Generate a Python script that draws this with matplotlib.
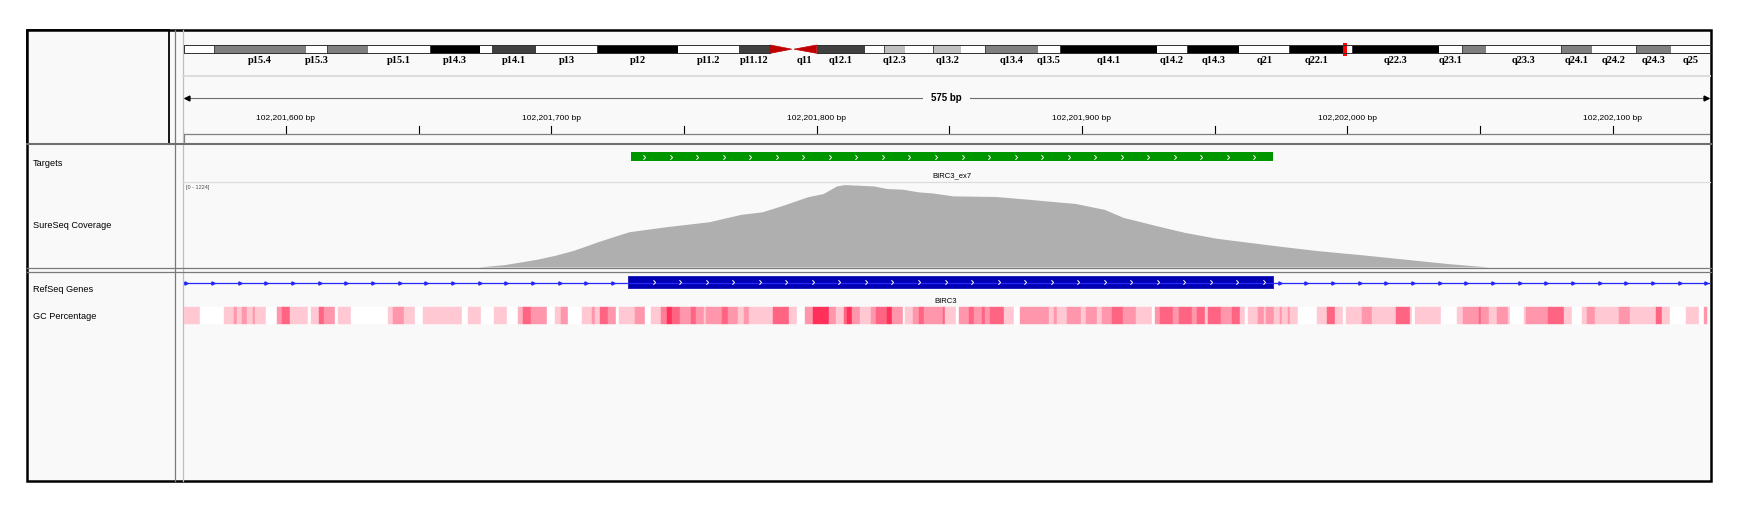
import numpy as np
import matplotlib.pyplot as plt
from matplotlib.patches import Rectangle, Polygon
from matplotlib.path import Path
from matplotlib.colors import LinearSegmentedColormap, Normalize

# view: chr11, BIRC3 exon 7
view_start = 102201561.5
view_end = 102202136.5
ruler_step = 50

target_start, target_end = 102201730, 102201972
target_name = 'BIRC3_ex7'
exon_start, exon_end = 102201729, 102201972
gene_name = 'BIRC3'

track_names = ['Targets', 'SureSeq Coverage', 'RefSeq Genes', 'GC Percentage']

# coverage (offset from view start, depth)
cov_max = 1224
cov_offset = [111, 121, 133, 140, 147, 157, 164, 168, 182, 198, 210, 218, 226, 235, 241, 246, 249, 260,
              265, 271, 277, 282, 290, 306, 318, 325, 336, 347, 354, 367, 377, 389, 402, 414, 427, 444,
              465, 477, 492]
cov_depth = [0, 35, 111, 169, 241, 376, 462, 509, 581, 652, 758, 795, 891, 1010, 1058, 1167, 1187, 1167,
             1130, 1120, 1081, 1067, 1024, 1015, 977, 952, 915, 829, 715, 591, 500, 415, 352, 295, 237, 176,
             94, 47, 0]

# GC percentage segments (start offset from view start, GC %)
gc_start = [0, 6, 15, 19, 20, 22, 24, 26, 27, 31, 35, 37, 40, 47, 48, 51, 53, 57, 58, 63, 77, 79, 83, 87, 90,
            105, 107, 112, 117, 122, 126, 128, 131, 137, 140, 142, 145, 150, 154, 155, 157, 160, 163, 164,
            170, 174, 176, 180, 182, 184, 187, 191, 193, 196, 197, 203, 205, 209, 211, 213, 222, 228, 231,
            234, 237, 243, 246, 249, 250, 252, 255, 259, 261, 265, 267, 271, 272, 275, 277, 279, 286, 287,
            291, 292, 296, 298, 301, 302, 304, 309, 313, 315, 326, 328, 329, 333, 338, 340, 344, 346, 350,
            354, 359, 365, 366, 368, 373, 375, 380, 382, 385, 386, 391, 395, 398, 400, 401, 405, 407, 408,
            411, 413, 414, 416, 417, 420, 427, 431, 434, 437, 438, 444, 448, 457, 462, 463, 464, 474, 480,
            482, 488, 489, 492, 495, 499, 500, 505, 506, 514, 520, 523, 527, 529, 532, 541, 545, 555, 557,
            560, 566, 571, 573]
gc_pct = [45, 30, 45, 55, 45, 55, 45, 55, 45, 30, 55, 65, 45, 30, 45, 65, 55, 30, 45, 30, 45, 55, 45, 30, 45,
          30, 45, 30, 45, 30, 50, 65, 55, 30, 45, 55, 30, 45, 55, 45, 65, 55, 30, 45,
          55, 30, 45, 60, 75, 65, 55, 65, 55, 45, 55, 65, 55, 45, 55, 45, 65, 45, 30,
          55, 75, 55, 45, 65, 75, 55, 45, 55, 65, 75, 55, 30, 45, 55, 65, 55, 65, 45,
          30, 55, 65, 55, 65, 55, 65, 45, 30, 55, 45, 55, 45, 55, 45, 55, 45, 55, 65,
          55, 45, 30, 55, 65, 55, 65, 55, 65, 45, 65, 55, 65, 45, 30, 45, 55, 45, 55,
          45, 55, 45, 55, 45, 30, 45, 65, 45, 30, 45, 55, 45, 65, 45, 30, 45, 30, 45,
          55, 65, 55, 45, 55, 45, 30, 45, 55, 65, 45, 30, 45, 55, 45, 55, 45, 65, 45,
          30, 45, 30, 55]
gc_end = 574

# chr11 cytobands (start Mb, name, stain)
chrom_len = 135.0
band_start = [0, 2.7, 10.8, 12.7, 16.3, 21.8, 26.2, 27.3, 31.2, 36.6, 43.7, 49.1, 51.9, 53.9, 56.0, 60.3,
              62.0, 63.8, 66.3, 68.8, 70.9, 75.6, 77.5, 86.1, 88.8, 93.4, 97.8, 102.6, 103.4, 111.1,
              113.1, 115.2, 121.9, 124.6, 128.5, 131.6]
band_name = ['p15.5', 'p15.4', 'p15.3', 'p15.2', 'p15.1', 'p14.3', 'p14.2', 'p14.1', 'p13', 'p12', 'p11.2',
             'p11.12', 'p11.11', 'q11', 'q12.1', 'q12.2', 'q12.3', 'q13.1', 'q13.2', 'q13.3', 'q13.4',
             'q13.5', 'q14.1', 'q14.2', 'q14.3', 'q21', 'q22.1', 'q22.2', 'q22.3', 'q23.1', 'q23.2',
             'q23.3', 'q24.1', 'q24.2', 'q24.3', 'q25']
band_stain = ['gneg', 'gpos50', 'gneg', 'gpos50', 'gneg', 'gpos100', 'gneg', 'gpos75', 'gneg', 'gpos100',
              'gneg', 'gpos75', 'acen', 'acen', 'gpos75', 'gneg', 'gpos25', 'gneg', 'gpos25', 'gneg',
              'gpos50', 'gneg', 'gpos100', 'gneg', 'gpos100', 'gneg', 'gpos100', 'gneg', 'gpos100', 'gneg',
              'gpos50', 'gneg', 'gpos50', 'gneg', 'gpos50', 'gneg']
hidden_labels = ['p15.5', 'p15.2', 'p14.2', 'p11.11', 'q12.2', 'q13.1', 'q13.3', 'q22.2', 'q23.2']
view_marker_mb = (102.6, 102.95)

stain_color = {'gneg': 'white', 'gpos25': '#C0C0C0', 'gpos50': '#808080',
               'gpos75': '#404040', 'gpos100': 'black', 'acen': '#C00000'}

W, H = 1745, 513
BG = '#F9F9F9'
X0, X1 = 183.7, 1709.5

fig = plt.figure(figsize=(W / 100, H / 100), dpi=100)


def px_axes(x0, y0, x1, y1):
    a = fig.add_axes([x0 / W, 1 - y1 / H, (x1 - x0) / W, (y1 - y0) / H])
    a.set_facecolor('none')
    a.axis('off')
    return a


# frame, panels, names
bg = px_axes(0, 0, W, H)
bg.set_xlim(0, W)
bg.set_ylim(H, 0)
bg.add_patch(Rectangle((27, 30), 1684, 451, facecolor=BG, edgecolor='black', lw=1.8, zorder=0))
bg.add_patch(Rectangle((27, 30), 142.5, 113.5, facecolor='none', edgecolor='black', lw=1.3))
bg.plot([175, 175], [30, 481], color='#7A7A7A', lw=0.9)
bg.plot([183, 183], [30, 481], color='#BEBEBE', lw=0.9)
bg.plot([183, 1710], [76, 76], color='#DCDCDC', lw=1.4)
bg.plot([27, 1711], [144, 144], color='#6E6E6E', lw=1.5)
bg.plot([183, 1710], [181.7, 181.7], color='#DCDCDC', lw=0.9)
bg.plot([27, 1711], [267.8, 267.8], color='#7A7A7A', lw=0.9)
bg.plot([27, 1711], [271.6, 271.6], color='#7A7A7A', lw=0.9)

name_y = [164, 225, 290, 316.7]
for name, y in zip(track_names, name_y):
    bg.text(33, y, name, fontsize=6.6, family='Liberation Sans', va='center', ha='left')
bg.text(186.5, 187.7, f'[0 - {cov_max}]', fontsize=4, family='Liberation Sans', va='center',
        ha='left', color='#505050')

# ideogram
ax_ideo = px_axes(X0, 30, X1, 76)
ax_ideo.set_xlim(0, chrom_len)
ax_ideo.set_ylim(76, 30)
yt, yb = 45, 53.3
band_end = band_start[1:] + [chrom_len]
for s, e, n, st in zip(band_start, band_end, band_name, band_stain):
    c = stain_color[st]
    if st == 'acen':
        mid = (yt + yb) / 2
        if n.startswith('p'):
            pts = [(s, yt), (e - 0.1, mid), (s, yb)]
        else:
            pts = [(e, yt), (s + 0.1, mid), (e, yb)]
        ax_ideo.add_patch(Polygon(pts, closed=True, facecolor=c, edgecolor=c, lw=0.5))
    else:
        ec = '#303030' if st != 'gneg' else 'none'
        ax_ideo.add_patch(Rectangle((s, yt), e - s, yb - yt, facecolor=c, edgecolor=ec, lw=0.6))
    if n not in hidden_labels:
        ax_ideo.text((s + e) / 2, 60.5, n, fontsize=7.5, family='Liberation Serif', weight='bold',
                     ha='center', va='center')
# outline of the two arms
p_end = band_start[band_name.index('p11.11')]
q_beg = band_end[band_name.index('q11')]
ax_ideo.plot([p_end, 0, 0, p_end], [yt, yt, yb, yb], color='#303030', lw=0.7)
ax_ideo.plot([q_beg, chrom_len, chrom_len, q_beg], [yt, yt, yb, yb], color='#303030', lw=0.7)
ax_ideo.add_patch(Rectangle((view_marker_mb[0], yt - 2.5), view_marker_mb[1] - view_marker_mb[0],
                            yb - yt + 5, facecolor='#FF0000', edgecolor='none'))

# ruler
ax_rul = px_axes(X0, 76, X1, 144)
ax_rul.set_xlim(view_start, view_end)
ax_rul.set_ylim(144, 76)
ax_rul.plot([view_start, view_end], [97.7, 97.7], color='#6E6E6E', lw=0.8)
ax_rul.plot([view_start + 1.2], [97.7], marker='<', ms=3.5, color='black')
ax_rul.plot([view_end - 1.2], [97.7], marker='>', ms=3.5, color='black')
ax_rul.text((view_start + view_end) / 2, 97.7, f'{int(round(view_end - view_start))} bp', fontsize=7,
            family='Liberation Sans', weight='bold', ha='center', va='center',
            bbox=dict(facecolor=BG, edgecolor='none', pad=6))
ticks = np.arange(np.ceil(view_start / ruler_step) * ruler_step, view_end, ruler_step)
for t in ticks:
    ax_rul.plot([t, t], [125.7, 133.3], color='black', lw=0.8)
    if t % 100 == 0:
        ax_rul.text(t, 118, f'{int(t):,} bp', fontsize=6, family='Liberation Sans',
                    ha='center', va='center')
ax_rul.plot([view_start, view_end], [134.3, 134.3], color='#808080', lw=0.9)
ax_rul.plot([view_start, view_start], [134.3, 143.5], color='#808080', lw=0.9)

# feature tracks
ax_trk = px_axes(X0, 144, X1, 481)
ax_trk.set_xlim(view_start, view_end)
ax_trk.set_ylim(481, 144)

chev = Path([(-0.45, 1), (0.45, 0), (-0.45, -1)], [Path.MOVETO, Path.LINETO, Path.LINETO])

ax_trk.broken_barh([(target_start, target_end - target_start)], (152.3, 8.4), facecolors='#009600')
tx = np.arange(target_start + 5, target_end - 2, 10)
ax_trk.plot(tx, np.full(len(tx), 156.5), ls='none', marker=chev, ms=3.3, mfc='none', mec='white', mew=0.7)
ax_trk.text((target_start + target_end) / 2, 175.7, target_name, fontsize=5.5, family='Liberation Sans',
            ha='center', va='center')

ax_trk.plot([view_start, view_end], [282.7, 282.7], color='#2626FF', lw=0.9)
ix = np.arange(view_start + 1, view_end, 10.05)
ix = ix[(ix < exon_start - 2) | (ix > exon_end + 2)]
ax_trk.plot(ix, np.full(len(ix), 282.7), ls='none', marker='>', ms=2.3, color='#2626FF')
ax_trk.broken_barh([(exon_start, exon_end - exon_start)], (276, 12.3), facecolors='#0000B2',
                   edgecolor='#0000B2', lw=0.5)
ex = np.arange(exon_start + 9.6, exon_end - 1, 10)
ax_trk.plot(ex, np.full(len(ex), 282.2), ls='none', marker=chev, ms=3.3, mfc='none', mec='white', mew=0.7)
ax_trk.text((exon_start + exon_end) / 2 - 2, 301.7, gene_name, fontsize=5.5, family='Liberation Sans',
            ha='center', va='center')

gc_cmap = LinearSegmentedColormap.from_list('gc', ['#FFFFFF', '#FF1E4B'])
gc_norm = Normalize(vmin=34, vmax=79, clip=True)
gc_left = view_start + np.array(gc_start)
gc_w = np.diff(np.append(gc_start, gc_end))
gc_col = gc_cmap(gc_norm(np.array(gc_pct)))
ax_trk.bar(gc_left, 17, width=gc_w, bottom=307.3, align='edge', color=gc_col, edgecolor=gc_col, lw=0.3)

# coverage
ax_cov = px_axes(X0, 182, X1, 267)
ax_cov.set_xlim(view_start, view_end)
ax_cov.set_ylim(0, cov_max)
ax_cov.fill_between(view_start + np.array(cov_offset), cov_depth, 0, color='#AFAFAF', lw=0)

fig.savefig('out.png', dpi=100)
